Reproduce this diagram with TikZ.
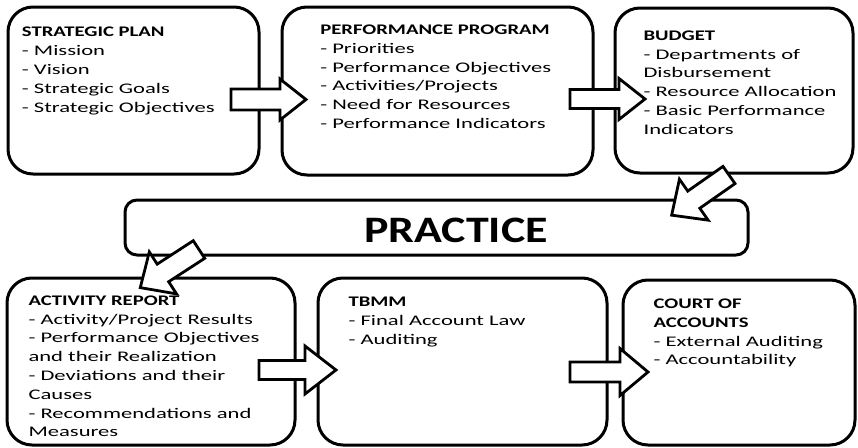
\documentclass[tikz,border=0pt]{standalone}
\usepackage{fontspec}
\newfontfamily\bodyfont[FakeStretch=1.54]{Carlito}
\newfontfamily\headfont[FakeStretch=1.41]{Carlito}
\newfontfamily\bigfont[FakeStretch=1.23]{Carlito}
\usetikzlibrary{calc}
\begin{document}
\begin{tikzpicture}[x=0.75pt,y=-0.75pt,
  box/.style={draw, line width=2.25pt, rounded corners=18.75pt, inner sep=0pt, outer sep=0pt, fill=white},
  boxsz/.style n args={2}{minimum width={#1*0.75pt}, minimum height={#2*0.75pt}},
  txt/.style={anchor=north west, align=left, inner sep=0pt, font=\bodyfont\fontsize{11pt}{14.1pt}\selectfont},
  arrowline/.style={draw, fill=white, line width=2.1pt, line join=miter},
  pics/barrow/.style n args={4}{code={
    \path[arrowline] (0,-#2) -- ({#1-#4},-#2) -- ({#1-#4},-#3) -- (#1,0) -- ({#1-#4},#3) -- ({#1-#4},#2) -- (0,#2) -- cycle;}}
]
\useasboundingbox (0,0) rectangle (858,447);
\fill[white] (0,0) rectangle (858,447);

% boxes
\node[box, boxsz={251}{167}] (sp) at (133.5,90.5) {};
\node[box, boxsz={311}{168}] (pp) at (437.5,91) {};
\node[box, boxsz={238}{165}] (bu) at (734,90.5) {};
\node[box, boxsz={623}{55}, rounded corners=9pt] (pr) at (436.5,227.5) {};
\node[box, boxsz={288}{167}] (ar) at (151,361.5) {};
\node[box, boxsz={289}{167}] (tb) at (462.5,361.5) {};
\node[box, boxsz={232}{165}] (ca) at (739,362.5) {};

% texts (north = first baseline - strut height)
\node[txt] (spt) at (21.7,23.5) {\strut{\headfont\bfseries STRATEGIC PLAN}\\- Mission\\- Vision\\- Strategic Goals\\- Strategic Objectives};
\node[txt] (ppt) at (320,21.1) {\strut{\headfont\bfseries PERFORMANCE PROGRAM}\\- Priorities\\- Performance Objectives\\- Activities/Projects\\- Need for Resources\\- Performance Indicators};
\node[txt] (but) at (643.3,26.8) {\strut{\headfont\bfseries BUDGET}\\- Departments of\\Disbursement\\- Resource Allocation\\- Basic Performance\\Indicators};
\node[anchor=base, inner sep=0pt, font=\bigfont\bfseries\fontsize{28pt}{32pt}\selectfont] (prt) at (456,242) {PRACTICE};
\node[txt] (art) at (28.3,291.8) {\strut{\headfont\bfseries ACTIVITY REPORT}\\- Activity/Project Results\\- Performance Objectives\\and their Realization\\- Deviations and their\\Causes\\- Recommendations and\\Measures};
\node[txt] (tbt) at (348.3,293.5) {\strut{\headfont\bfseries TBMM}\\- Final Account Law\\- Auditing};
\node[txt] (cat) at (653.3,295.1) {\strut{\headfont\bfseries COURT OF}\\{\headfont\bfseries ACCOUNTS}\\- External Auditing\\- Accountability};

% block arrows
\pic at (231,99.5) {barrow={75}{10.5}{20.5}{26}};
\pic at (570,99) {barrow={75}{9.5}{20.5}{26}};
\pic[rotate=215] at (729,175) {barrow={70}{10.5}{25}{27}};
\pic[rotate=213] at (199,249.5) {barrow={70}{10.5}{25}{27}};
\pic at (259,370) {barrow={77}{9.5}{24}{31}};
\pic at (570,372) {barrow={78}{10}{23.5}{28}};
\end{tikzpicture}
\end{document}
